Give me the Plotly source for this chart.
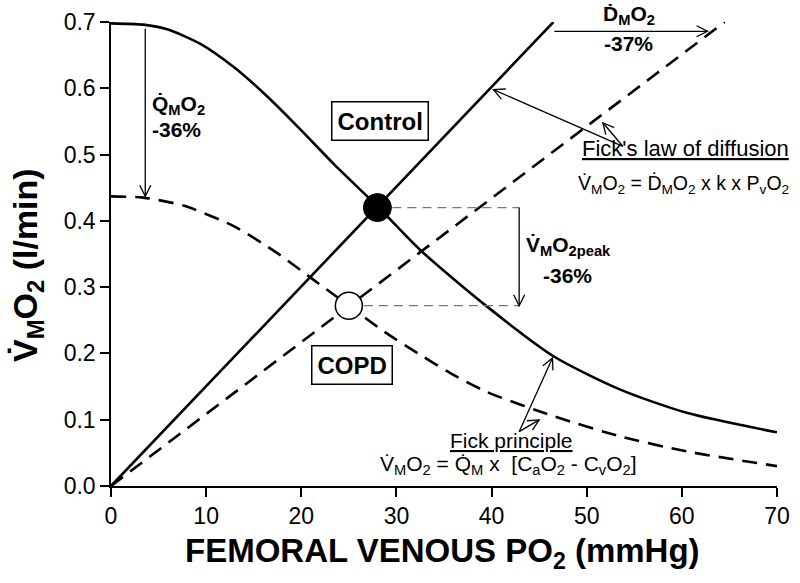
import math
import plotly.graph_objects as go

# ---------------- data ----------------
pvo2_control = [0, 3.4, 5.9, 9.4, 12.9, 16.4, 19.9, 23.4, 28.0, 32.5, 39.5, 46.6, 53.6, 60.6, 70]
vo2_control = [0.698, 0.696, 0.689, 0.667, 0.632, 0.588, 0.538, 0.486, 0.422, 0.356, 0.271, 0.195, 0.145, 0.110, 0.081]

pvo2_copd = [0, 3.4, 7.6, 12.9, 17.4, 21.3, 25.0, 28.7, 32.5, 35.7, 39.5, 46.6, 53.6, 60.6, 70]
vo2_copd = [0.437, 0.435, 0.423, 0.392, 0.352, 0.311, 0.272, 0.233, 0.198, 0.170, 0.142, 0.105, 0.0745, 0.052, 0.030]

diff_control_x = [0, 46.5]
diff_control_y = [0, 0.70]
diff_copd_x = [0, 64.5]
diff_copd_y = [0, 0.70]

peak_control = (28.0, 0.420)
peak_copd = (25.0, 0.272)

x_ticks = [0, 10, 20, 30, 40, 50, 60, 70]
y_ticks = [0.0, 0.1, 0.2, 0.3, 0.4, 0.5, 0.6, 0.7]

# ---------------- layout geometry ----------------
W, H = 800, 583
ML, MR, MT, MB = 111, 23, 22, 97
PW, PH = W - ML - MR, H - MT - MB
XR, YR = (0, 70), (0, 0.7)
PX_X = PW / (XR[1] - XR[0])
PX_Y = PH / (YR[1] - YR[0])


def paper_x(px):
    return (px - ML) / PW


def paper_y(py):
    return (MT + PH - py) / PH


FONT = "Arial, Liberation Sans, sans-serif"
DOT = "\u0307"

fig = go.Figure()

fig.add_trace(go.Scatter(x=pvo2_control, y=vo2_control, mode="lines", line=dict(color="black", width=2.6, shape="spline", smoothing=0.7), hoverinfo="skip"))
fig.add_trace(go.Scatter(x=pvo2_copd, y=vo2_copd, mode="lines", line=dict(color="black", width=2.6, dash="15px,9px", shape="spline", smoothing=0.7), hoverinfo="skip"))
fig.add_trace(go.Scatter(x=diff_control_x, y=diff_control_y, mode="lines", line=dict(color="black", width=2.6), hoverinfo="skip", cliponaxis=False))
fig.add_trace(go.Scatter(x=diff_copd_x, y=diff_copd_y, mode="lines", line=dict(color="black", width=2.6, dash="15px,9px"), hoverinfo="skip", cliponaxis=False))

# gray reference lines
x_peak_arrow = 42.9
fig.add_trace(go.Scatter(x=[peak_control[0], x_peak_arrow], y=[peak_control[1], peak_control[1]], mode="lines", line=dict(color="#777777", width=1.3, dash="9px,6px"), hoverinfo="skip"))
fig.add_trace(go.Scatter(x=[peak_copd[0], x_peak_arrow], y=[peak_copd[1], peak_copd[1]], mode="lines", line=dict(color="#777777", width=1.3, dash="9px,6px"), hoverinfo="skip"))

fig.add_trace(go.Scatter(x=[peak_control[0]], y=[peak_control[1]], mode="markers", marker=dict(size=28, color="black", line=dict(color="black", width=1)), hoverinfo="skip"))
fig.add_trace(go.Scatter(x=[peak_copd[0]], y=[peak_copd[1]], mode="markers", marker=dict(size=27, color="white", line=dict(color="black", width=1.5)), hoverinfo="skip"))

shapes = []


def arrow(x0, y0, x1, y1, head=11, half=5.5):
    shapes.append(dict(type="line", xref="x", yref="y", x0=x0, y0=y0, x1=x1, y1=y1,
                       line=dict(color="black", width=1.3)))
    dx = (x1 - x0) * PX_X
    dy = (y1 - y0) * PX_Y
    L = math.hypot(dx, dy)
    ux, uy = dx / L, dy / L
    nx, ny = -uy, ux
    p1 = (-head * ux + half * nx, -head * uy + half * ny)
    p2 = (-head * ux - half * nx, -head * uy - half * ny)
    path = f"M {p1[0]:.2f},{p1[1]:.2f} L 0,0 L {p2[0]:.2f},{p2[1]:.2f}"
    shapes.append(dict(type="path", xref="x", yref="y", xsizemode="pixel", ysizemode="pixel",
                       xanchor=x1, yanchor=y1, path=path, line=dict(color="black", width=1.3)))


arrow(3.6, 0.69, 3.6, 0.437)                 # Q arrow
arrow(46.6, 0.686, 62.7, 0.686)              # D arrow
arrow(x_peak_arrow, 0.42, x_peak_arrow, 0.272)  # VO2peak arrow
arrow(53.8, 0.5125, 40.2, 0.598)             # Fick's law -> control
arrow(53.8, 0.5125, 51.7, 0.548)             # Fick's law -> COPD
arrow(42.9, 0.082, 46.4, 0.193)              # Fick principle -> control
arrow(42.9, 0.082, 45.0, 0.0997)             # Fick principle -> COPD

ann = []


def txt(x, y, text, size=21, bold=False, xanchor="center", yref="y", yanchor="middle", **kw):
    t = f"<b>{text}</b>" if bold else text
    d = dict(x=x, y=y, xref="x", yref=yref, text=t, showarrow=False, xanchor=xanchor, yanchor=yanchor,
             font=dict(family=FONT, size=size, color="black"))
    d.update(kw)
    ann.append(d)


txt(4.1, 0.5755, f"Q{DOT}<sub>M</sub>O<sub>2</sub>", size=21, bold=True, xanchor="left")
txt(4.1, 0.538, "-36%", size=21, bold=True, xanchor="left")
txt(54.4, paper_y(0), f"\u1E0A<sub>M</sub>O<sub>2</sub>", size=21, bold=True, yref="paper", yanchor="top")
txt(54.4, 0.668, "-37%", size=21, bold=True)
txt(43.4, 0.362, f"V{DOT}<sub>M</sub>O<sub>2peak</sub>", size=21, bold=True, xanchor="left")
txt(48.0, 0.318, "-36%", size=21, bold=True)
txt(28.3, 0.5503, "Control", size=24, bold=True, bordercolor="black", borderwidth=1.5, borderpad=5, bgcolor="white")
txt(25.3, 0.183, "COPD", size=24, bold=True, bordercolor="black", borderwidth=1.5, borderpad=5, bgcolor="white")
txt(49.3, 0.509, "<u>Fick's law of diffusion</u>", size=22, xanchor="left")
txt(48.9, 0.455, f"V{DOT}<sub>M</sub>O<sub>2</sub> = \u1E0A<sub>M</sub>O<sub>2</sub> x k x P<sub>v</sub>O<sub>2</sub>", size=19.5, xanchor="left")
txt(35.4, 0.068, "<u>Fick principle</u>", size=21, xanchor="left")
txt(28.1, 0.032, f"V{DOT}<sub>M</sub>O<sub>2</sub> = Q{DOT}<sub>M</sub> x  [C<sub>a</sub>O<sub>2</sub> - C<sub>v</sub>O<sub>2</sub>]", size=21, xanchor="left")

# axis titles (positions in page pixels converted to paper fractions)
ann.append(dict(x=paper_x(442), y=paper_y(553), xref="paper", yref="paper", showarrow=False,
                text="<b>FEMORAL VENOUS PO<sub>2</sub> (mmHg)</b>", xanchor="center", yanchor="middle",
                font=dict(family=FONT, size=33, color="black")))
ann.append(dict(x=paper_x(27), y=paper_y(265), xref="paper", yref="paper", showarrow=False,
                text=f"<b>V{DOT}<sub>M</sub>O<sub>2</sub> (l/min)</b>", xanchor="center", yanchor="middle",
                textangle=-90, font=dict(family=FONT, size=34, color="black")))

fig.update_layout(
    width=W, height=H,
    margin=dict(l=ML, r=MR, t=MT, b=MB, autoexpand=False),
    paper_bgcolor="white", plot_bgcolor="white",
    showlegend=False,
    shapes=shapes, annotations=ann,
    xaxis=dict(range=list(XR), tickvals=x_ticks, ticktext=[str(v) for v in x_ticks],
               showgrid=False, zeroline=False, showline=True, linecolor="black", linewidth=1.5,
               ticks="outside", ticklen=9, tickwidth=1.5, tickcolor="black",
               tickfont=dict(family=FONT, size=23, color="black")),
    yaxis=dict(range=list(YR), tickvals=y_ticks, ticktext=[f"{v:.1f}" for v in y_ticks],
               showgrid=False, zeroline=False, showline=True, linecolor="black", linewidth=1.5,
               ticks="outside", ticklen=9, tickwidth=1.5, tickcolor="black",
               tickfont=dict(family=FONT, size=23, color="black")),
)

fig.write_html("out.html", config={"displayModeBar": False},
               post_script="document.body.style.margin = '0px'; document.body.style.overflow = 'hidden';")
